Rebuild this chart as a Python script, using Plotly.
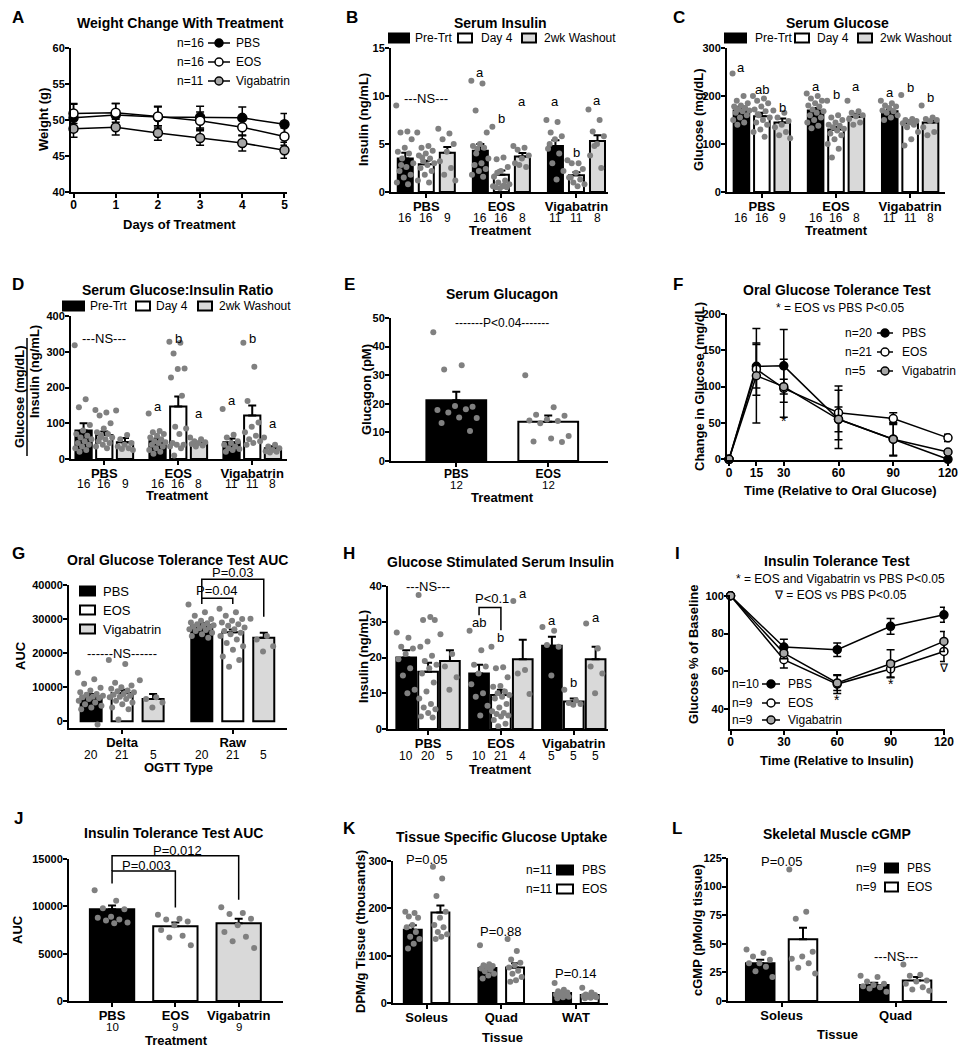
import plotly.graph_objects as go

W, H = 967, 1050
FONT = "Liberation Sans, Arial, sans-serif"
BLK, WHT, GRY, PT, VIGC = "#000000", "#ffffff", "#d9d9d9", "#808080", "#a6a6a6"

# ---------------- DATA ----------------
TRT = ["PBS", "EOS", "Vigabatrin"]
TIMES = ["Pre-Trt", "Day 4", "2wk Washout"]

# A  Weight change
A_days = [0, 1, 2, 3, 4, 5]
A_names = ["PBS", "EOS", "Vigabatrin"]
A_n = ["n=16", "n=16", "n=11"]
A_mean = [[50.3, 50.7, 50.4, 50.4, 50.3, 49.4],
          [50.9, 51.0, 50.5, 49.9, 49.0, 47.7],
          [48.8, 49.0, 48.2, 47.5, 46.8, 45.8]]
A_err = [[1.9, 1.6, 1.5, 1.5, 1.5, 1.5],
         [1.4, 1.3, 1.3, 1.2, 1.2, 1.2],
         [1.2, 1.1, 1.0, 1.0, 1.1, 1.1]]

# B  Serum insulin  [group][time]
B_mean = [[3.5, 2.9, 4.1], [4.3, 1.8, 3.7], [4.8, 1.75, 5.3]]
B_sem = [[0.6, 0.35, 0.6], [0.7, 0.45, 0.35], [0.6, 0.3, 0.6]]
B_n = [[16, 16, 9], [16, 16, 8], [11, 11, 8]]
B_pts = [
    [[9.0, 6.3, 6.2, 5.5, 4.6, 4.2, 4.0, 3.5, 3.0, 2.6, 2.2, 1.8, 1.5, 1.0, 0.8, 2.8],
     [6.2, 4.8, 4.6, 4.3, 4.0, 3.8, 3.5, 3.2, 3.0, 2.8, 2.5, 2.2, 1.8, 1.2, 1.0, 3.6],
     [6.6, 6.1, 5.5, 5.0, 4.2, 3.2, 2.5, 1.8, 1.2]],
    [[11.6, 11.3, 8.5, 6.2, 5.0, 4.8, 4.6, 4.5, 3.5, 3.0, 2.8, 2.4, 2.2, 1.8, 1.6, 4.0],
     [6.8, 3.6, 3.4, 2.6, 2.2, 1.6, 1.2, 1.0, 0.8, 0.6, 0.5, 0.5, 0.4, 0.6, 0.7, 2.0],
     [4.8, 4.6, 4.4, 3.8, 3.5, 3.0, 2.6, 2.8]],
    [[7.5, 7.3, 6.2, 5.8, 5.5, 4.5, 4.0, 3.0, 2.2, 1.3, 5.0],
     [3.3, 3.0, 3.0, 2.4, 2.0, 1.5, 1.3, 1.0, 0.8, 0.6, 1.5],
     [8.6, 7.5, 6.3, 5.8, 5.0, 3.8, 2.5, 4.8]]]
B_let = [["", "", ""], ["a", "b", "a"], ["a", "b", "a"]]
B_let_y = [[0, 0, 0], [12.5, 7.7, 9.4], [9.4, 4.1, 9.5]]

# C  Serum glucose
C_mean = [[170, 158, 145], [170, 130, 157], [168, 143, 145]]
C_sem = [[8, 7, 8], [5, 6, 6], [4, 6, 5]]
C_n = [[16, 16, 9], [16, 16, 8], [11, 11, 8]]
C_pts = [
    [[247, 200, 190, 185, 180, 178, 175, 172, 170, 168, 165, 160, 155, 150, 145, 140],
     [200, 195, 190, 185, 178, 172, 168, 160, 155, 150, 145, 140, 130, 125, 115, 162],
     [170, 165, 155, 148, 140, 135, 125, 118, 112]],
    [[205, 200, 195, 190, 185, 180, 178, 172, 168, 165, 160, 155, 150, 145, 138, 133],
     [190, 160, 155, 150, 145, 140, 138, 135, 132, 128, 122, 118, 110, 100, 90, 72],
     [190, 168, 165, 160, 158, 152, 145, 140]],
    [[190, 185, 180, 178, 175, 170, 168, 165, 160, 155, 150],
     [202, 152, 150, 148, 145, 143, 140, 135, 125, 110, 97],
     [180, 155, 152, 150, 148, 135, 125, 118]]]
C_let = [["a", "ab", "b"], ["a", "b", "a"], ["a", "b", "b"]]
C_let_y = [[260, 213, 177], [220, 203, 220], [207, 217, 196]]

# D  Glucose:insulin ratio
D_mean = [[80, 67, 47], [50, 147, 42], [47, 122, 30]]
D_sem = [[20, 10, 12], [7, 28, 3], [10, 28, 6]]
D_n = [[16, 16, 9], [16, 16, 8], [11, 11, 8]]
D_pts = [
    [[318, 167, 145, 95, 80, 70, 65, 60, 55, 50, 45, 40, 35, 30, 25, 20],
     [137, 130, 122, 100, 85, 75, 70, 65, 60, 55, 50, 45, 40, 35, 30, 60],
     [136, 67, 55, 45, 40, 35, 30, 28, 25]],
    [[127, 78, 75, 70, 65, 60, 55, 50, 47, 45, 40, 35, 30, 25, 20, 15],
     [328, 325, 295, 253, 252, 228, 177, 90, 85, 70, 45, 40, 40, 35, 30, 10],
     [60, 55, 50, 47, 45, 42, 38, 35]],
    [[140, 68, 60, 50, 45, 40, 35, 30, 28, 25, 20],
     [325, 258, 162, 102, 90, 75, 65, 55, 50, 45, 40],
     [60, 40, 35, 30, 25, 22, 20, 18]]]
D_let = [["", "", ""], ["a", "b", "a"], ["a", "b", "a"]]
D_let_y = [[0, 0, 0], [146, 336, 128], [165, 336, 100]]

# E  Glucagon
E_groups = ["PBS", "EOS"]
E_mean = [[21.2], [13.7]]
E_sem = [[3.0], [2.2]]
E_n = [[12], [12]]
E_pts = [[[45, 33.5, 32, 19, 19.2, 17.8, 18.1, 17, 15, 15.2, 13.3, 10.5]],
         [[30, 18.8, 16.2, 15.8, 14.5, 14.2, 14, 13.2, 8.7, 7.9, 6.8, 6.6]]]

# F  OGTT
F_time = [0, 15, 30, 60, 90, 120]
F_names = ["PBS", "EOS", "Vigabatrin"]
F_n = ["n=20", "n=21", "n=5"]
F_mean = [[0, 128, 128.6, 55, 27.6, 0],
          [0, 124, 97.7, 64, 56, 29.5],
          [0, 115, 100, 55, 27.6, 10]]
F_err = [[0, 30, 50, 40, 23, 2],
         [0, 36, 40, 37, 8, 5],
         [0, 65, 10, 17, 22, 3]]

# G  OGTT AUC  [type][treatment]
G_types = ["Delta", "Raw"]
G_mean = [[7300, 8300, 6500], [28200, 26100, 24500]]
G_sem = [[700, 900, 1500], [600, 800, 1500]]
G_n = [[20, 21, 5], [20, 21, 5]]
G_pts = [
    [[14200, 12300, 11000, 9800, 9000, 8500, 8000, 7800, 7500, 7200, 7000, 6800, 6500, 6000, 5500, 5000, 4500, 4000, 3500, -1000],
     [18000, 16800, 11300, 10500, 10000, 9500, 9000, 8800, 8500, 8000, 7800, 7500, 7200, 7000, 6500, 6000, 5500, 5000, 4000, 3500, 500],
     [12000, 7000, 6500, 5500, 4000]],
    [[34300, 32000, 31000, 30000, 29500, 29000, 28800, 28500, 28200, 28000, 27800, 27500, 27300, 27000, 26800, 26500, 26000, 25500, 25000, 24500],
     [33000, 32000, 31000, 30000, 29500, 29000, 28500, 28000, 27500, 27000, 26500, 26000, 25500, 25000, 24000, 23000, 22000, 21000, 19000, 18000, 16000],
     [30100, 25000, 24000, 22000, 20500]]]

# H  Glucose stimulated insulin
H_mean = [[20, 16, 19], [15.5, 9.5, 19.5], [23.3, 7.7, 19.5]]
H_sem = [[2, 2.5, 3], [2.5, 1.5, 5.5], [2.5, 0.8, 3.5]]
H_n = [[10, 20, 5], [10, 21, 4], [5, 5, 5]]
H_pts = [
    [[27, 25.5, 23, 22.5, 21, 19.5, 17, 15, 11, 10],
     [37.5, 31.3, 30.5, 30.5, 24.5, 23, 20.5, 19, 18, 17, 15.5, 13, 10.5, 8.5, 7, 6, 5.5, 4.5, 3.5, 3.2],
     [26.5, 21, 17.5, 14.5, 11]],
    [[27.5, 22, 18, 17.5, 15.5, 12.5, 10, 9, 6.5, 3.8],
     [23, 17.3, 17, 14.5, 12, 11.8, 10.5, 10, 9.5, 9, 8.5, 7, 6, 5, 4.5, 4.2, 3.8, 3.5, 2.5, 1.5, 0.8],
     [35.8, 16.5, 15.5, 9.8]],
    [[28.5, 27.5, 23.5, 23, 15],
     [11, 8, 7.3, 7, 6.8],
     [29.5, 22.5, 17.5, 15.5, 10]]]
H_let = [["", "", ""], ["ab", "b", "a"], ["a", "b", "a"]]
H_let_y = [[0, 0, 0], [29.8, 25.6, 38], [30.4, 12.9, 31.3]]

# I  ITT
I_time = [0, 30, 60, 90, 120]
I_names = ["PBS", "EOS", "Vigabatrin"]
I_n = ["n=10", "n=9", "n=9"]
I_mean = [[100, 72.8, 71.4, 83.8, 89.9],
          [100, 66.1, 53.2, 61.2, 70.5],
          [100, 69.6, 53.8, 64.0, 75.8]]
I_err = [[0, 4.2, 3.6, 4.2, 4.0],
         [0, 4.4, 5.0, 4.2, 5.3],
         [0, 3.0, 4.0, 7.4, 5.3]]

# J  ITT AUC
J_mean = [[9700], [7900], [8200]]
J_sem = [[400], [400], [500]]
J_n = [[10], [9], [9]]
J_pts = [[[11700, 10600, 9800, 9700, 8900, 8800, 8600, 8500, 8300, 8200]],
         [[9100, 8700, 8600, 8400, 8000, 7500, 6900, 6700, 5900]],
         [[9900, 9300, 9200, 8700, 8000, 7300, 6800, 6300, 5600]]]

# K  Tissue glucose uptake  [tissue][treatment]
K_tissue = ["Soleus", "Quad", "WAT"]
K_mean = [[155, 191], [74, 75], [21, 17]]
K_sem = [[9, 15], [5, 9], [3, 2]]
K_pts = [
    [[193, 190, 183, 180, 165, 160, 150, 140, 135, 125, 115],
     [288, 263, 226, 193, 180, 165, 160, 150, 145, 140, 135]],
    [[122, 82, 80, 78, 75, 73, 70, 67, 62, 58, 52],
     [135, 110, 92, 85, 80, 75, 68, 62, 55, 48, 45]],
    [[42, 28, 25, 22, 20, 18, 17, 15, 13, 12, 10],
     [32, 22, 18, 17, 16, 15, 14, 13, 12, 11, 10]]]

# L  cGMP
L_tissue = ["Soleus", "Quad"]
L_mean = [[33, 54], [14, 18]]
L_sem = [[3, 10], [2, 3]]
L_pts = [
    [[45, 42, 39, 36, 33, 33, 30, 26, 21],
     [115, 78, 72, 43, 39, 37, 33, 29, 24]],
    [[22, 21, 17, 15, 14, 13, 12, 11, 8],
     [32, 23, 22, 18, 17, 15, 12, 10, 9]]]

# ---------------- HELPERS ----------------
fig = go.Figure()
layout = {}
ann = []
shapes = []
PANEL = {}


def fnt(size, bold=False):
    return dict(family=FONT, size=size, color="black", weight="bold" if bold else "normal")


def _ann(x, y, xref, yref, s, size, bold, xa, ya, angle):
    ann.append(dict(x=x, y=y, xref=xref, yref=yref, text=s, showarrow=False, font=fnt(size, bold),
                    xanchor=xa, yanchor=ya, textangle=angle, borderpad=0))


def text(x, y, s, size=12, bold=False, xa="center", ya="middle", angle=0, xref="paper"):
    # x, y in pixels (x may instead be a data value when xref is an axis)
    _ann(x / W if xref == "paper" else x, 1 - y / H, xref, "paper", s, size, bold, xa, ya, angle)


def d2p(key, xv, yv):
    p = PANEL[key]
    x0, x1, y0, y1 = p["box"]
    xr, yr = p["xr"], p["yr"]
    fx = (xv - xr[0]) / (xr[1] - xr[0])
    fy = (yv - yr[0]) / (yr[1] - yr[0])
    return (x0 + fx * (x1 - x0)) / W, 1 - (y1 - fy * (y1 - y0)) / H


def dtext(key, xv, yv, s, size=13, bold=False):
    a, b = d2p(key, xv, yv)
    _ann(a, b, "paper", "paper", s, size, bold, "center", "middle", 0)


def rect(x0, y0, x1, y1, fill):
    shapes.append(dict(type="rect", xref="paper", yref="paper", x0=x0 / W, x1=x1 / W,
                       y0=1 - y1 / H, y1=1 - y0 / H, fillcolor=fill, line=dict(color="black", width=2)))


def seg(x0, y0, x1, y1, w=1.5):
    shapes.append(dict(type="line", xref="paper", yref="paper", x0=x0 / W, x1=x1 / W,
                       y0=1 - y0 / H, y1=1 - y1 / H, line=dict(color="black", width=w)))


def circ(cx, cy, r, fill):
    shapes.append(dict(type="circle", xref="paper", yref="paper", x0=(cx - r) / W, x1=(cx + r) / W,
                       y0=1 - (cy + r) / H, y1=1 - (cy - r) / H, fillcolor=fill,
                       line=dict(color="black", width=1.5)))


def bracket(key, pts):
    path = ""
    for i, (xv, yv) in enumerate(pts):
        a, b = d2p(key, xv, yv)
        path += ("M" if i == 0 else "L") + f"{a},{b} "
    shapes.append(dict(type="path", xref="paper", yref="paper", path=path,
                       line=dict(color="black", width=1.5)))


def axes(key, idx, box, xr, yr, yticks, xticks, xtext=None, xfont=13, yfont=11):
    x0, x1, y0, y1 = box
    s = "" if idx == 1 else str(idx)
    PANEL[key] = dict(x="x" + s, y="y" + s, box=box, xr=xr, yr=yr)
    common = dict(showline=True, linecolor="black", linewidth=2, ticks="outside", ticklen=4,
                  tickwidth=2, tickcolor="black", showgrid=False, zeroline=False, fixedrange=True,
                  tickmode="array", automargin=False)
    layout["xaxis" + s] = dict(domain=[x0 / W, x1 / W], range=xr, anchor="y" + s, tickvals=xticks,
                               ticktext=xtext if xtext else [str(v) for v in xticks],
                               tickfont=fnt(xfont, True), ticklabelstandoff=-3, **common)
    layout["yaxis" + s] = dict(domain=[1 - y1 / H, 1 - y0 / H], range=yr, anchor="x" + s,
                               tickvals=yticks, ticktext=[str(v) for v in yticks],
                               tickfont=fnt(yfont, True), ticklabelstandoff=-2, **common)


def spread(n, w):
    return [((k * 0.618034) % 1.0 - 0.5) * w for k in range(n)]


def grouped(key, means, sems, pts, fills, offs, bw, jw, ns=None, n_y=None, lets=None, let_y=None, nsize=12):
    p = PANEL[key]
    G, T = len(means), len(means[0])
    for t in range(T):
        xs = [g + (t - (T - 1) / 2) * offs for g in range(G)]
        fig.add_trace(go.Bar(
            x=xs, y=[means[g][t] for g in range(G)], width=bw,
            marker=dict(color=[fills[g][t] for g in range(G)], line=dict(color="black", width=2)),
            error_y=dict(type="data", symmetric=False, array=[sems[g][t] for g in range(G)],
                         arrayminus=[0] * G, color="black", thickness=2, width=4),
            xaxis=p["x"], yaxis=p["y"], showlegend=False, hoverinfo="skip"))
    xs_all, ys_all = [], []
    for g in range(G):
        for t in range(T):
            xc = g + (t - (T - 1) / 2) * offs
            vals = pts[g][t]
            for d, v in zip(spread(len(vals), jw), vals):
                xs_all.append(xc + d)
                ys_all.append(v)
            if ns is not None:
                text(xc, n_y, str(ns[g][t]), nsize, xref=p["x"])
            if lets is not None and lets[g][t]:
                dtext(key, xc, let_y[g][t], lets[g][t], 13)
    fig.add_trace(go.Scatter(x=xs_all, y=ys_all, mode="markers", marker=dict(color=PT, size=6),
                             xaxis=p["x"], yaxis=p["y"], showlegend=False, hoverinfo="skip",
                             cliponaxis=False))


def lines(key, xs, means, errs, fills, size=9):
    p = PANEL[key]
    for m, e, f in zip(means, errs, fills):
        fig.add_trace(go.Scatter(
            x=xs, y=m, mode="lines+markers", line=dict(color="black", width=1.5),
            marker=dict(size=size, color=f, line=dict(color="black", width=1.5)),
            error_y=dict(type="data", array=e, color="black", thickness=1.5, width=4),
            xaxis=p["x"], yaxis=p["y"], showlegend=False, hoverinfo="skip", cliponaxis=False))


def line_legend(nx, lx0, lx1, tx, rows, ns, names, fills):
    for y, n, nm, f in zip(rows, ns, names, fills):
        text(nx, y, n, 12, xa="left")
        seg(lx0, y, lx1, y, 1.5)
        circ((lx0 + lx1) / 2, y, 4, f)
        text(tx, y, nm, 12, xa="left")


def bar_legend_h(y, items):
    for (x0, x1, tx), nm, f in zip(items, TIMES, [BLK, WHT, GRY]):
        rect(x0, y - 4.5, x1, y + 4.5, f)
        text(tx, y, nm, 12, xa="left")


LINE_FILLS = [BLK, WHT, VIGC]
BAR3 = [[BLK, WHT, GRY]] * 3

# ---------------- PANEL A ----------------
axes("A", 1, (71, 287, 48, 192), [-0.06, 5.06], [40, 60], [40, 45, 50, 55, 60], A_days, xfont=12)
lines("A", A_days, A_mean, A_err, LINE_FILLS)
text(180, 23, "Weight Change With Treatment", 14, True)
line_legend(176, 208, 230, 235, [43, 62, 81], A_n, A_names, LINE_FILLS)
text(43, 120, "Weight (g)", 13, True, angle=-90)
text(179, 224, "Days of Treatment", 13, True)

# ---------------- PANEL B ----------------
axes("B", 2, (391, 608, 48, 192), [-0.47, 2.42], [0, 15], [0, 5, 10, 15], [0, 1, 2], TRT)
grouped("B", B_mean, B_sem, B_pts, BAR3, 0.28, 0.2, 0.24, B_n, 218, B_let, B_let_y)
text(500, 23, "Serum Insulin", 14, True)
bar_legend_h(38, [(389, 409, 414), (458, 472, 480), (522, 536, 543)])
dtext("B", 0, 9.7, "---NS---", 13)
text(363, 120, "Insulin (ng/mL)", 13, True, angle=-90)
text(500, 230, "Treatment", 13, True)

# ---------------- PANEL C ----------------
axes("C", 3, (727, 945, 48, 192), [-0.47, 2.47], [0, 300], [0, 100, 200, 300], [0, 1, 2], TRT)
grouped("C", C_mean, C_sem, C_pts, BAR3, 0.275, 0.21, 0.24, C_n, 218, C_let, C_let_y)
text(837, 23, "Serum Glucose", 14, True)
bar_legend_h(38, [(725, 746, 754), (795, 809, 816), (858, 872, 879)])
text(698, 120, "Glucose (mg/dL)", 13, True, angle=-90)
text(836, 230, "Treatment", 13, True)

# ---------------- PANEL D ----------------
axes("D", 4, (71, 287, 316, 459), [-0.45, 2.47], [0, 400], [0, 100, 200, 300, 400], [0, 1, 2], TRT)
grouped("D", D_mean, D_sem, D_pts, BAR3, 0.28, 0.22, 0.24, D_n, 484, D_let, D_let_y)
text(177, 290, "Serum Glucose:Insulin Ratio", 14, True)
bar_legend_h(306, [(63, 84, 89), (136, 150, 155), (198, 212, 218)])
dtext("D", 0, 336, "---NS---", 13)
text(20, 397, "Glucose (mg/dL)", 13, True, angle=-90)
seg(27, 338, 27, 456, 1.5)
text(34, 372, "Insulin (ng/mL)", 13, True, angle=-90)
text(177, 496, "Treatment", 13, True)

# ---------------- PANEL E ----------------
axes("E", 5, (391, 608, 318, 461), [-0.71, 1.65], [0, 50], [0, 10, 20, 30, 40, 50], [0, 1], E_groups, xfont=12)
grouped("E", E_mean, E_sem, E_pts, [[BLK], [WHT]], 0, 0.65, 0.5, E_n, 485, nsize=11.5)
text(502, 294, "Serum Glucagon", 14, True)
dtext("E", 0.5, 48.2, "-------P<0.04-------", 12)
text(366, 390, "Glucagon (pM)", 13, True, angle=-90)
text(502, 497, "Treatment", 13, True)

# ---------------- PANEL F ----------------
axes("F", 6, (727, 950, 314, 460), [-1.1, 121.1], [-1, 200], [0, 50, 100, 150, 200], F_time, xfont=12)
lines("F", F_time, F_mean, F_err, LINE_FILLS, size=8)
text(837, 290, "Oral Glucose Tolerance Test", 14, True)
text(840, 308, "* = EOS vs PBS P<0.05", 12)
line_legend(844, 877, 893, 901, [333, 352, 371], F_n, F_names, LINE_FILLS)
dtext("F", 30, 53, "*", 14)
text(699, 387, "Change in Glucose (mg/dL)", 13, True, angle=-90)
text(840, 490, "Time (Relative to Oral Glucose)", 13, True)

# ---------------- PANEL G ----------------
axes("G", 7, (69, 287, 585, 728), [-0.48, 1.49], [-2000, 40000],
     [0, 10000, 20000, 30000, 40000], [0, 1], G_types)
grouped("G", G_mean, G_sem, G_pts, [[BLK, WHT, GRY]] * 2, 0.28, 0.19, 0.24, G_n, 755)
text(177, 560, "Oral Glucose Tolerance Test AUC", 14, True)
for y, nm, f in zip([591, 610, 629], TRT, [BLK, WHT, GRY]):
    rect(80, y - 4.5, 95, y + 4.5, f)
    text(102, y, nm, 13, xa="left")
dtext("G", 0, 20000, "------NS------", 13)
bracket("G", [(0.72, 34400), (0.72, 36100), (1.0, 36100), (1.0, 34400)])
bracket("G", [(0.72, 36100), (0.72, 41700), (1.28, 41700), (1.28, 30700)])
dtext("G", 0.86, 38300, "P=0.04", 13)
dtext("G", 1.0, 43700, "P=0.03", 13)
text(20, 656, "AUC", 13, True, angle=-90)
text(178, 767, "OGTT Type", 13, True)

# ---------------- PANEL H ----------------
axes("H", 8, (388, 608, 586, 729), [-0.55, 2.47], [0, 40], [0, 10, 20, 30, 40], [0, 1, 2], TRT)
grouped("H", H_mean, H_sem, H_pts, BAR3, 0.3, 0.27, 0.26, H_n, 756, H_let, H_let_y)
text(500, 562, "Glucose Stimulated Serum Insulin", 14, True)
dtext("H", 0, 40, "---NS---", 13)
bracket("H", [(0.7, 31.8), (0.7, 34), (1.0, 34), (1.0, 27.6)])
dtext("H", 0.88, 36.4, "P<0.1", 13)
text(363, 657, "Insulin (ng/mL)", 13, True, angle=-90)
text(500, 769, "Treatment", 13, True)

# ---------------- PANEL I ----------------
axes("I", 9, (730, 945, 595, 729), [-0.3, 120.6], [29.4, 100.4], [40, 60, 80, 100], I_time, xfont=12)
lines("I", I_time, I_mean, I_err, LINE_FILLS, size=8)
text(837, 561, "Insulin Tolerance Test", 14, True)
text(840, 579, "* = EOS and Vigabatrin vs PBS P<0.05", 12)
text(840, 595, "\u2207 = EOS vs PBS P<0.05", 12)
line_legend(731, 762, 780, 787, [684, 703, 720], I_n, I_names, LINE_FILLS)
dtext("I", 60, 45, "*", 14)
dtext("I", 90, 53.4, "*", 14)
dtext("I", 120, 61.7, "\u2207", 12)
text(693, 655, "Glucose % of Baseline", 13, True, angle=-90)
text(837, 760, "Time (Relative to Insulin)", 13, True)

# ---------------- PANEL J ----------------
axes("J", 10, (69, 283, 859, 1001), [-0.68, 2.7], [0, 15000], [0, 5000, 10000, 15000], [0, 1, 2], TRT)
grouped("J", J_mean, J_sem, J_pts, [[BLK], [WHT], [GRY]], 0, 0.7, 0.55, J_n, 1027, nsize=11.5)
text(173, 833, "Insulin Tolerance Test AUC", 14, True)
bracket("J", [(0, 12400), (0, 13730), (1, 13730), (1, 9880)])
bracket("J", [(0, 13730), (0, 15350), (2, 15350), (2, 10700)])
dtext("J", 0.55, 14300, "P=0.003", 13)
dtext("J", 1.04, 15900, "P=0.012", 13)
text(17, 930, "AUC", 13, True, angle=-90)
text(176, 1040, "Treatment", 13, True)

# ---------------- PANEL K ----------------
axes("K", 11, (393, 608, 861, 1003), [-0.45, 2.43], [0, 300], [0, 100, 200, 300], [0, 1, 2], K_tissue)
grouped("K", K_mean, K_sem, K_pts, [[BLK, WHT]] * 3, 0.37, 0.24, 0.2)
text(502, 837, "Tissue Specific Glucose Uptake", 14, True)
for xv, yv, s in zip([0, 1, 2], [304, 151, 62], ["P=0.05", "P=0.88", "P=0.14"]):
    dtext("K", xv, yv, s, 13)
for y, nm, f in zip([870, 889], ["PBS", "EOS"], [BLK, WHT]):
    text(525, y, "n=11", 12, xa="left")
    rect(557, y - 4.5, 573, y + 4.5, f)
    text(581, y, nm, 12, xa="left")
text(360, 932, "DPM/g Tissue (thousands)", 13, True, angle=-90)
text(502, 1037, "Tissue", 13, True)

# ---------------- PANEL L ----------------
axes("L", 12, (728, 947, 858, 1001), [-0.47, 1.45], [0, 125], [0, 25, 50, 75, 100, 125], [0, 1], L_tissue)
grouped("L", L_mean, L_sem, L_pts, [[BLK, WHT]] * 2, 0.375, 0.25, 0.24)
text(837, 834, "Skeletal Muscle cGMP", 14, True)
dtext("L", 0, 122, "P=0.05", 13)
dtext("L", 1, 39, "---NS---", 13)
for y, nm, f in zip([868, 887], ["PBS", "EOS"], [BLK, WHT]):
    text(855, y, "n=9", 12, xa="left")
    rect(885, y - 4.5, 898, y + 4.5, f)
    text(906, y, nm, 12, xa="left")
text(697, 930, "cGMP (pMol/g tissue)", 13, True, angle=-90)
text(837, 1034, "Tissue", 13, True)

# ---------------- PANEL LETTERS ----------------
for s, x, y in [("A", 18, 18), ("B", 352, 18), ("C", 679, 18), ("D", 18, 285), ("E", 349, 285),
                ("F", 678, 285), ("G", 18, 553), ("H", 349, 553), ("I", 677, 553),
                ("J", 18, 818), ("K", 349, 828), ("L", 677, 828)]:
    text(x, y, s, 17, True)

fig.update_layout(width=W, height=H, margin=dict(l=0, r=0, t=0, b=0, pad=0, autoexpand=False),
                  paper_bgcolor="white", plot_bgcolor="rgba(0,0,0,0)", showlegend=False,
                  barmode="overlay", annotations=ann, shapes=shapes,
                  font=dict(family=FONT, color="black"), **layout)
fig.write_html("out.html", config={"displayModeBar": False},
               post_script="document.body.style.margin='0px';document.body.style.padding='0px';")
